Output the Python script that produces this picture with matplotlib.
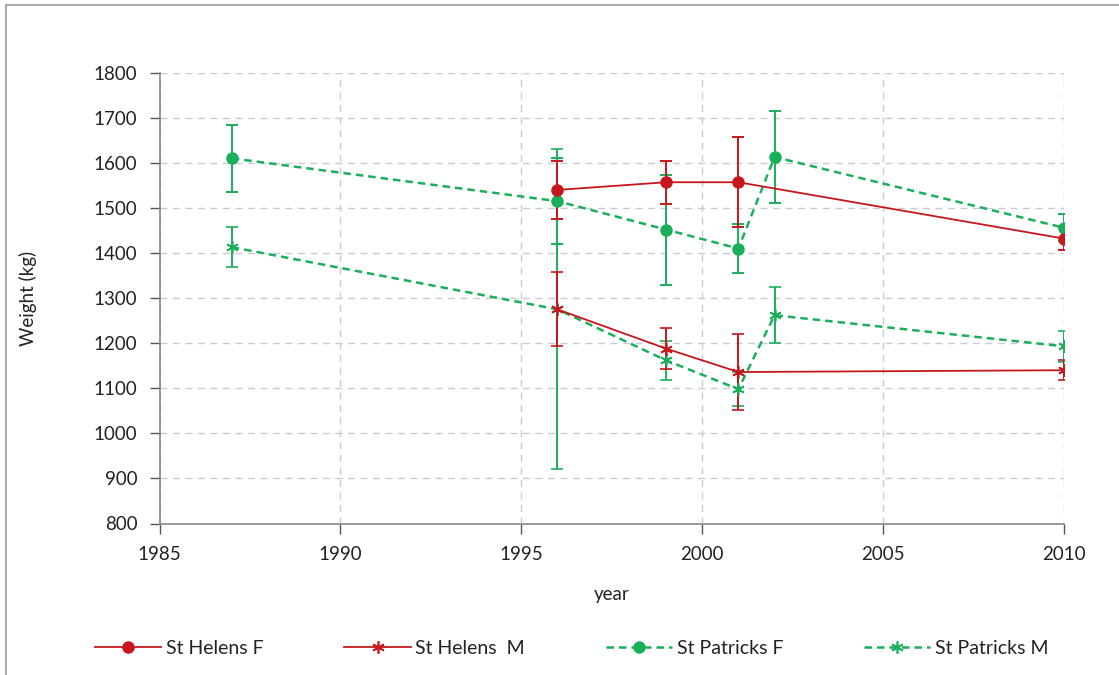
import matplotlib
matplotlib.use("Agg")
import matplotlib.pyplot as plt
from matplotlib.patches import Rectangle
from matplotlib.lines import Line2D

plt.rcParams['font.family'] = ['Lato', 'DejaVu Sans']

years_sh = [1996, 1999, 2001, 2010]
sh_f = [1540, 1557, 1557, 1432]
sh_f_err = [65, 48, 100, 25]
sh_m = [1275, 1188, 1136, 1140]
sh_m_err = [82, 45, 85, 22]

years_sp = [1987, 1996, 1999, 2001, 2002, 2010]
sp_f = [1610, 1515, 1452, 1410, 1613, 1456]
sp_f_err = [75, 95, 122, 55, 103, 30]
sp_m = [1413, 1275, 1162, 1098, 1262, 1193]
sp_m_err = [45, 355, 43, 38, 62, 35]

xticks = [1985, 1990, 1995, 2000, 2005, 2010]
yticks = list(range(800, 1801, 100))

RED = '#C8161D'
GREEN = '#1AAF5A'
DASH = (0, (3, 2))
STAR = (6, 2, 0)

fig = plt.figure(figsize=(11.19, 6.75), dpi=100)
ax = fig.add_axes([159.5/1119, 1 - 523.5/675, (1064 - 159.5)/1119, (523.5 - 72.7)/675])

common = dict(elinewidth=1.4, capsize=4.5, capthick=1.4)
ax.errorbar(years_sp, sp_m, yerr=sp_m_err, color=GREEN, ls=DASH, lw=1.8,
            marker=STAR, ms=9, mew=1.2, **common)
ax.errorbar(years_sp, sp_f, yerr=sp_f_err, color=GREEN, ls=DASH, lw=1.8,
            marker='o', ms=8, **common)
ax.errorbar(years_sh, sh_m, yerr=sh_m_err, color=RED, ls='-', lw=1.3,
            marker=STAR, ms=9, mew=1.2, **common)
ax.errorbar(years_sh, sh_f, yerr=sh_f_err, color=RED, ls='-', lw=1.3,
            marker='o', ms=8, **common)

ax.set_xlim(1985, 2010)
ax.set_ylim(800, 1800)
ax.set_xticks(xticks)
ax.set_yticks(yticks)
ax.tick_params(axis='both', labelsize=13.5, colors='#555555', labelcolor='#222222',
               length=7, width=1)
ax.tick_params(axis='x', pad=9)
ax.tick_params(axis='y', pad=9)
ax.grid(True, color='#C8CAD8', ls=(0, (5, 4)), lw=1)
ax.set_axisbelow(True)
for s in ['top', 'right']:
    ax.spines[s].set_visible(False)
for s in ['left', 'bottom']:
    ax.spines[s].set_color('#888888')
    ax.spines[s].set_linewidth(1.2)

ax.set_xlabel('year', fontsize=13.5, color='#222222', labelpad=17)
ax.set_ylabel('Weight (kg)', fontsize=13.5, color='#222222', labelpad=41)

handles = [
    Line2D([], [], color=RED, ls='-', lw=1.3, marker='o', ms=8),
    Line2D([], [], color=RED, ls='-', lw=1.3, marker=STAR, ms=9, mew=1.2),
    Line2D([], [], color=GREEN, ls=DASH, lw=1.8, marker='o', ms=8),
    Line2D([], [], color=GREEN, ls=DASH, lw=1.8, marker=STAR, ms=9, mew=1.2),
]
labels = ['St Helens F', 'St Helens  M', 'St Patricks F', 'St Patricks M']
fig.legend(handles, labels, loc='center', bbox_to_anchor=(0.511, 1 - 648/675), ncol=4,
           frameon=False, fontsize=14, handlelength=3.4, columnspacing=4.15,
           handletextpad=0.25, labelcolor='#222222')

fig.patches.append(Rectangle((6/1119, -0.01), 1.2, 1 - 5/675 + 0.01, transform=fig.transFigure,
                             fill=False, edgecolor='#AAAAAA', lw=1.5))

fig.savefig('out.png', dpi=100, facecolor='white')
